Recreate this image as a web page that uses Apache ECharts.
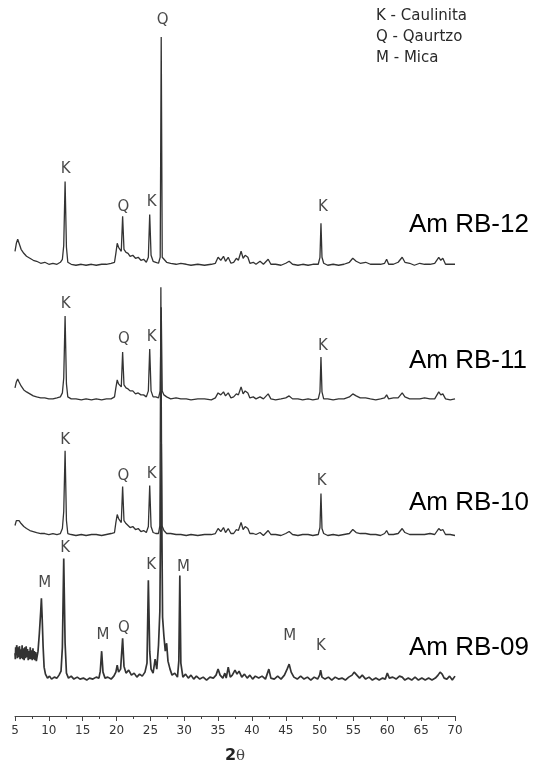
<!DOCTYPE html>
<html>
<head>
<meta charset="utf-8">
<script src="https://cdn.jsdelivr.net/npm/echarts@6/dist/echarts.min.js"></script>
<style>
  html, body { margin: 0; padding: 0; background: #fff; }
  #chart { width: 533px; height: 769px; }
</style>
</head>
<body>
<div id="chart"></div>
<script>
// 2θ ticks
var ticks = [5, 10, 15, 20, 25, 30, 35, 40, 45, 50, 55, 60, 65, 70];

// samples, bottom to top, and the vertical shift of each trace
var samples = ["Am RB-09", "Am RB-10", "Am RB-11", "Am RB-12"];
var offsets = [35, 181, 317, 452];

// [2θ, intensity above the trace baseline]
var rb12 = [[5.0,14],[5.2,22],[5.4,26],[5.6,22],[5.9,16],[6.3,12],[6.7,9],[7.2,7],[7.7,5],[8.2,4],[8.8,2],[9.4,3],[10.0,1],[10.6,2],[11.2,1],[11.7,3],[12.0,6],[12.2,20],[12.4,84],[12.6,18],[12.8,3],[13.3,1],[14.0,0],[14.8,1],[15.5,0],[16.3,1],[17.0,0],[17.8,1],[18.5,1],[19.2,2],[19.7,3],[19.9,12],[20.1,22],[20.3,18],[20.5,20],[20.7,14],[20.9,49],[21.1,16],[21.4,13],[21.7,12],[22.0,9],[22.4,10],[22.8,7],[23.2,8],[23.6,5],[24.0,6],[24.4,3],[24.7,8],[24.9,51],[25.1,10],[25.4,4],[25.8,3],[26.2,2],[26.45,8],[26.6,229],[26.75,8],[27.0,6],[27.4,3],[28.0,2],[28.8,1],[29.5,2],[30.3,1],[31.0,0],[32.0,1],[33.0,0],[34.0,1],[34.6,2],[35.0,8],[35.4,5],[35.8,9],[36.1,4],[36.5,8],[36.9,2],[37.3,3],[37.7,7],[38.0,5],[38.4,14],[38.7,7],[39.0,10],[39.4,8],[39.7,2],[40.2,3],[40.6,1],[41.2,4],[41.7,1],[42.4,6],[42.8,1],[43.5,1],[44.3,0],[45.0,2],[45.5,4],[46.0,1],[46.8,0],[47.5,1],[48.3,0],[49.0,1],[49.8,1],[50.05,8],[50.2,42],[50.35,8],[50.6,2],[51.2,0],[52.0,1],[52.8,0],[53.6,1],[54.4,3],[54.9,7],[55.4,4],[56.0,2],[56.8,3],[57.5,1],[58.3,1],[59.0,1],[59.6,2],[59.9,6],[60.2,1],[60.9,1],[61.6,3],[62.2,8],[62.6,3],[63.3,2],[64.0,0],[64.8,2],[65.5,1],[66.3,1],[67.0,2],[67.6,8],[67.9,5],[68.2,7],[68.6,1],[69.3,1],[70.0,1]];

var rb11 = [[5.0,12],[5.2,18],[5.4,21],[5.6,18],[5.9,14],[6.3,10],[6.7,8],[7.2,6],[7.7,4],[8.2,3],[8.8,2],[9.4,2],[10.0,1],[10.6,1],[11.2,2],[11.7,3],[12.0,7],[12.2,22],[12.4,84],[12.6,16],[12.8,3],[13.3,1],[14.0,1],[14.8,0],[15.5,1],[16.3,0],[17.0,1],[17.8,0],[18.5,1],[19.2,1],[19.7,3],[19.9,12],[20.1,20],[20.3,16],[20.5,18],[20.7,13],[20.9,48],[21.1,15],[21.4,12],[21.7,11],[22.0,9],[22.4,9],[22.8,6],[23.2,7],[23.6,5],[24.0,5],[24.4,3],[24.7,9],[24.9,51],[25.1,9],[25.4,3],[25.8,3],[26.2,2],[26.45,9],[26.6,93],[26.75,9],[27.0,5],[27.4,3],[28.0,1],[28.8,2],[29.5,1],[30.3,1],[31.0,0],[32.0,1],[33.0,1],[34.0,0],[34.6,2],[35.0,7],[35.4,5],[35.8,8],[36.1,4],[36.5,7],[36.9,2],[37.3,3],[37.7,6],[38.0,5],[38.4,13],[38.7,6],[39.0,9],[39.4,7],[39.7,2],[40.2,3],[40.6,1],[41.2,3],[41.7,1],[42.4,6],[42.8,1],[43.5,0],[44.3,1],[45.0,2],[45.5,4],[46.0,1],[46.8,1],[47.5,0],[48.3,1],[49.0,0],[49.8,1],[50.05,8],[50.2,43],[50.35,8],[50.6,1],[51.2,1],[52.0,0],[52.8,1],[53.6,1],[54.4,3],[54.9,6],[55.4,4],[56.0,2],[56.8,2],[57.5,1],[58.3,0],[59.0,1],[59.6,2],[59.9,5],[60.2,1],[60.9,2],[61.6,2],[62.2,7],[62.6,3],[63.3,1],[64.0,1],[64.8,1],[65.5,2],[66.3,1],[67.0,1],[67.6,8],[67.9,5],[68.2,6],[68.6,1],[69.3,0],[70.0,1]];

var rb10 = [[5.0,10],[5.2,15],[5.4,17],[5.6,15],[5.9,12],[6.3,9],[6.7,7],[7.2,5],[7.7,4],[8.2,3],[8.8,2],[9.4,2],[10.0,1],[10.6,2],[11.2,1],[11.7,2],[12.0,7],[12.2,24],[12.4,85],[12.6,15],[12.8,2],[13.3,1],[14.0,0],[14.8,1],[15.5,0],[16.3,1],[17.0,1],[17.8,0],[18.5,1],[19.2,2],[19.7,3],[19.9,13],[20.1,21],[20.3,17],[20.5,18],[20.7,13],[20.9,49],[21.1,15],[21.4,12],[21.7,10],[22.0,8],[22.4,9],[22.8,6],[23.2,7],[23.6,4],[24.0,5],[24.4,3],[24.7,9],[24.9,50],[25.1,9],[25.4,3],[25.8,2],[26.2,2],[26.4,10],[26.55,249],[26.7,10],[27.0,5],[27.4,2],[28.0,2],[28.8,1],[29.5,1],[30.3,0],[31.0,1],[32.0,0],[33.0,1],[34.0,1],[34.6,2],[35.0,7],[35.4,4],[35.8,8],[36.1,3],[36.5,7],[36.9,2],[37.3,2],[37.7,6],[38.0,5],[38.4,13],[38.7,6],[39.0,9],[39.4,7],[39.7,2],[40.2,2],[40.6,1],[41.2,3],[41.7,0],[42.4,5],[42.8,1],[43.5,1],[44.3,0],[45.0,2],[45.5,4],[46.0,1],[46.8,0],[47.5,1],[48.3,1],[49.0,0],[49.8,1],[50.05,8],[50.2,42],[50.35,7],[50.6,2],[51.2,0],[52.0,1],[52.8,0],[53.6,1],[54.4,2],[54.9,6],[55.4,3],[56.0,2],[56.8,2],[57.5,1],[58.3,1],[59.0,0],[59.6,2],[59.9,5],[60.2,1],[60.9,1],[61.6,2],[62.2,7],[62.6,3],[63.3,1],[64.0,1],[64.8,1],[65.5,1],[66.3,2],[67.0,1],[67.6,7],[67.9,5],[68.2,6],[68.6,1],[69.3,1],[70.0,0]];

var rb09 = [[5.0,28],[5.05,22],[5.1,34],[5.15,26],[5.2,24],[5.25,36],[5.3,33],[5.35,23],[5.4,26],[5.45,34],[5.5,36],[5.55,24],[5.6,25],[5.65,35],[5.7,31],[5.75,22],[5.8,22],[5.85,32],[5.9,33],[5.95,23],[6.0,27],[6.05,36],[6.1,35],[6.15,22],[6.2,24],[6.25,33],[6.3,30],[6.35,21],[6.4,22],[6.45,34],[6.5,32],[6.55,23],[6.6,26],[6.65,35],[6.7,34],[6.75,24],[6.8,23],[6.85,32],[6.9,29],[6.95,21],[7.0,21],[7.05,30],[7.1,31],[7.15,22],[7.2,25],[7.25,34],[7.3,33],[7.35,22],[7.4,22],[7.45,31],[7.5,30],[7.55,21],[7.6,24],[7.65,33],[7.7,32],[7.75,22],[7.8,23],[7.85,30],[7.9,28],[7.95,21],[8.0,22],[8.05,29],[8.1,27],[8.15,20],[8.2,22],[8.4,30],[8.6,48],[8.8,70],[8.9,83],[9.0,66],[9.15,35],[9.3,14],[9.5,7],[9.8,3],[10.1,5],[10.4,2],[10.8,4],[11.2,3],[11.5,6],[11.8,10],[12.0,34],[12.2,123],[12.4,38],[12.6,8],[12.9,3],[13.3,5],[13.7,2],[14.2,4],[14.6,2],[15.1,3],[15.6,1],[16.0,3],[16.5,2],[17.0,4],[17.4,3],[17.6,10],[17.8,30],[18.0,9],[18.3,3],[18.7,4],[19.2,2],[19.6,5],[19.9,9],[20.1,16],[20.3,9],[20.6,12],[20.9,43],[21.1,15],[21.4,8],[21.8,11],[22.2,6],[22.6,8],[23.0,4],[23.4,7],[23.8,5],[24.2,9],[24.5,18],[24.7,101],[24.9,30],[25.1,12],[25.4,8],[25.7,22],[25.95,12],[26.2,36],[26.4,70],[26.6,238],[26.8,64],[27.0,45],[27.2,30],[27.4,38],[27.6,20],[27.9,12],[28.2,6],[28.6,8],[29.0,4],[29.2,20],[29.35,106],[29.5,18],[29.8,4],[30.2,7],[30.6,3],[31.0,6],[31.4,2],[31.8,5],[32.3,2],[32.8,4],[33.3,1],[33.8,4],[34.3,3],[34.7,6],[35.0,12],[35.3,6],[35.7,3],[36.0,8],[36.2,3],[36.5,14],[36.8,4],[37.1,6],[37.5,11],[37.8,7],[38.1,10],[38.5,4],[38.9,7],[39.3,3],[39.7,6],[40.1,2],[40.5,5],[41.0,3],[41.5,5],[42.0,2],[42.5,12],[42.8,3],[43.3,2],[43.8,5],[44.3,2],[44.8,6],[45.2,12],[45.5,17],[45.8,9],[46.2,4],[46.7,2],[47.2,5],[47.7,2],[48.2,4],[48.7,1],[49.2,4],[49.7,2],[50.0,6],[50.15,11],[50.35,4],[50.8,2],[51.3,4],[51.8,1],[52.3,4],[52.8,2],[53.3,3],[53.8,1],[54.3,4],[54.8,6],[55.1,9],[55.5,6],[55.9,3],[56.3,6],[56.8,2],[57.3,4],[57.8,1],[58.3,3],[58.8,1],[59.3,3],[59.7,2],[60.0,8],[60.3,3],[60.8,4],[61.3,2],[61.8,5],[62.2,4],[62.6,1],[63.1,3],[63.6,1],[64.1,4],[64.6,1],[65.1,3],[65.6,1],[66.1,3],[66.6,1],[67.1,3],[67.5,6],[67.8,9],[68.1,7],[68.4,3],[68.8,2],[69.2,5],[69.6,1],[70.0,5]];

// peak marks: [2θ, height above baseline, phase]
var marks09 = [[9.4,98,"M"],[12.4,133,"K"],[18.0,46,"M"],[21.1,53,"Q"],[25.1,116,"K"],[29.9,114,"M"],[45.6,45,"M"],[50.2,35,"K"]];
var marks10 = [[12.4,96,"K"],[21.0,60,"Q"],[25.2,62,"K"],[50.3,55,"K"]];
var marks11 = [[12.5,96,"K"],[21.1,61,"Q"],[25.2,63,"K"],[50.5,54,"K"]];
var marks12 = [[12.5,96,"K"],[21.0,58,"Q"],[25.2,63,"K"],[50.5,58,"K"],[26.8,246,"Q"]];

var legendLines = ["K - Caulinita", "Q - Qaurtzo", "M - Mica"];

var traces = [rb09, rb10, rb11, rb12];
var marks = [marks09, marks10, marks11, marks12];

var chart = echarts.init(document.getElementById("chart"));

var series = [];
for (var i = 0; i < traces.length; i++) {
  var off = offsets[i];
  series.push({
    name: samples[i],
    type: "line",
    showSymbol: false,
    silent: true,
    data: traces[i].map(function (p) { return [p[0], p[1] + off]; }),
    lineStyle: { color: "#333", width: i == 0 ? 1.7 : 1.3 }
  });
}
var markData = [];
for (var j = 0; j < marks.length; j++) {
  for (var k = 0; k < marks[j].length; k++) {
    var m = marks[j][k];
    markData.push({ value: [m[0], m[1] + offsets[j]], name: m[2] });
  }
}
series.push({
  type: "scatter",
  symbolSize: 1,
  silent: true,
  itemStyle: { color: "rgba(0,0,0,0)" },
  data: markData,
  label: {
    show: true,
    position: "inside",
    formatter: "{b}",
    color: "#1a1a1a",
    fontSize: 15,
    fontFamily: "DejaVu Sans"
  }
});

var graphics = [];
var labelY = [650, 505, 363, 227];
for (var s = 0; s < samples.length; s++) {
  graphics.push({
    type: "text",
    left: 409,
    top: labelY[s] - 15,
    style: { text: samples[s], font: "26px 'Liberation Sans', Arial, sans-serif", fill: "#000" }
  });
}
var legY = [9, 30, 51];
for (var l = 0; l < legendLines.length; l++) {
  graphics.push({
    type: "text",
    left: 376,
    top: legY[l],
    style: { text: legendLines[l], font: "15px 'DejaVu Sans', sans-serif", fill: "#2a2a2a" }
  });
}

chart.setOption({
  animation: false,
  backgroundColor: "#fff",
  grid: { left: 15, right: 78, top: 0, bottom: 51 },
  xAxis: {
    type: "value",
    min: ticks[0],
    max: ticks[ticks.length - 1],
    interval: 5,
    name: "{a|2}{b|θ}",
    nameLocation: "middle",
    nameGap: 32,
    nameTextStyle: {
      rich: {
        a: { fontSize: 16, fontWeight: "bold", color: "#222", fontFamily: "DejaVu Sans" },
        b: { fontSize: 15, color: "#444", fontFamily: "DejaVu Serif" }
      }
    },
    axisLine: { lineStyle: { color: "#444", width: 1 } },
    axisTick: { length: 5, lineStyle: { color: "#444" } },
    minorTick: { show: true, splitNumber: 2, length: 3, lineStyle: { color: "#444" } },
    axisLabel: { color: "#333", fontSize: 12, margin: 9, fontFamily: "DejaVu Sans" },
    splitLine: { show: false }
  },
  yAxis: {
    type: "value",
    min: 0,
    max: 718,
    show: false
  },
  graphic: graphics,
  series: series
});
</script>
</body>
</html>
